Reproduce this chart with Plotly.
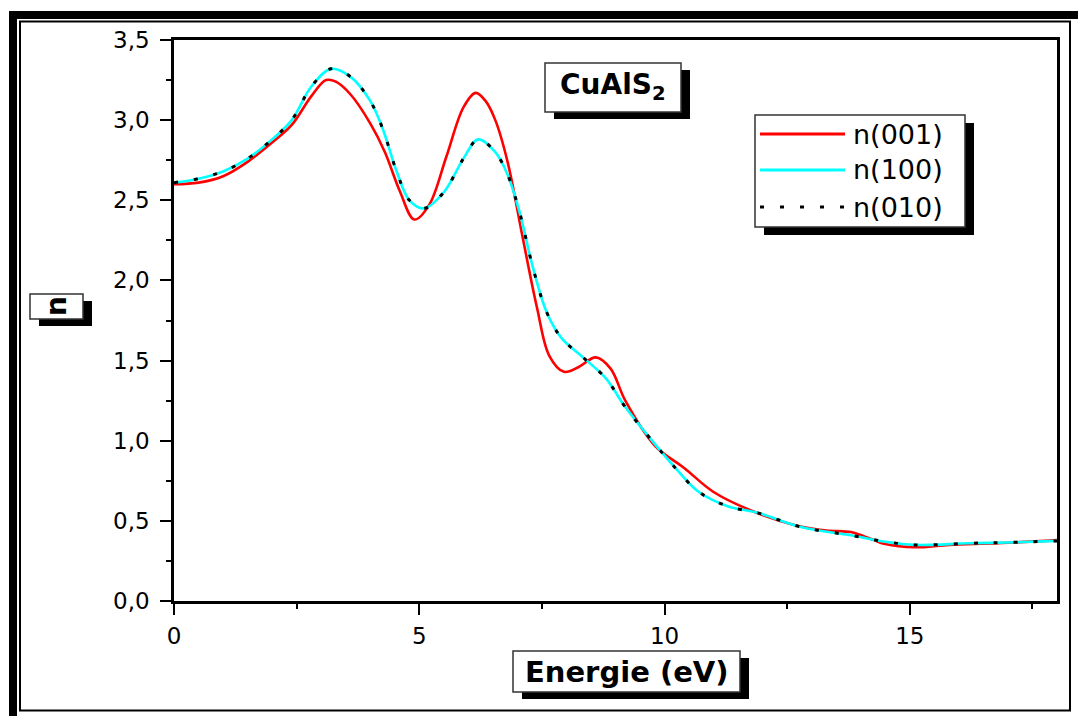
import plotly.graph_objects as go

# ---- data ----
energy_001 = [0.0, 0.5, 1.0, 1.5, 2.0, 2.4, 2.8, 3.1, 3.3, 3.6, 4.0, 4.3, 4.6, 4.9, 5.2, 5.55,
              5.9, 6.15, 6.35, 6.55, 6.8, 7.1, 7.4, 7.65, 7.95, 8.25, 8.6, 8.9, 9.2, 9.8, 10.4, 11.0,
              11.8, 12.7, 13.3, 13.8, 14.1, 14.5, 15.1, 15.8, 16.8, 18.0]
n_001 = [2.60, 2.61, 2.65, 2.74, 2.86, 2.97, 3.15, 3.25, 3.24, 3.16, 2.98, 2.80, 2.56, 2.38, 2.47, 2.77,
         3.08, 3.17, 3.12, 3.00, 2.74, 2.28, 1.83, 1.53, 1.43, 1.46, 1.52, 1.45, 1.25, 0.97, 0.83, 0.68,
         0.56, 0.47, 0.44, 0.43, 0.40, 0.355, 0.335, 0.35, 0.36, 0.38]

energy_100 = [0.0, 0.5, 1.0, 1.5, 2.0, 2.4, 2.8, 3.2, 3.6, 4.0, 4.25, 4.55, 4.8, 5.1, 5.5, 5.9,
              6.2, 6.55, 6.8, 7.05, 7.3, 7.6, 7.9, 8.3, 8.8, 9.2, 9.8, 10.25, 10.7, 11.3, 11.9,
              12.8, 13.8, 14.5, 15.1, 16.2, 17.0, 18.0]
n_100 = [2.61, 2.635, 2.68, 2.76, 2.88, 3.00, 3.21, 3.32, 3.27, 3.12, 2.95, 2.67, 2.50, 2.45, 2.55, 2.76,
         2.88, 2.80, 2.66, 2.42, 2.10, 1.80, 1.64, 1.53, 1.39, 1.21, 0.98, 0.82, 0.68, 0.59, 0.55,
         0.46, 0.41, 0.37, 0.35, 0.36, 0.365, 0.375]

energy_010 = list(energy_100)
n_010 = [2.61, 2.635, 2.68, 2.76, 2.88, 3.00, 3.21, 3.32, 3.27, 3.12, 2.95, 2.67, 2.50, 2.45, 2.55, 2.76,
         2.88, 2.80, 2.66, 2.42, 2.10, 1.80, 1.64, 1.53, 1.39, 1.21, 0.98, 0.82, 0.68, 0.59, 0.55,
         0.46, 0.41, 0.37, 0.35, 0.36, 0.365, 0.375]

series_names = ["n(001)", "n(100)", "n(010)"]
x_tickvals = [0, 5, 10, 15]
y_tickvals = [0.0, 0.5, 1.0, 1.5, 2.0, 2.5, 3.0, 3.5]
y_ticktext = ["0,0", "0,5", "1,0", "1,5", "2,0", "2,5", "3,0", "3,5"]

# ---- layout geometry ----
W, H = 1078, 716
L, R, T, B = 174, 21, 40, 115
PW, PH = W - L - R, H - T - B


def px(x):
    return (x - L) / PW


def py(y):
    return (H - B - y) / PH


FONT = "DejaVu Sans, Arial, Liberation Sans"
DOT = "4px,16px"

fig = go.Figure()
fig.add_trace(go.Scatter(x=energy_001, y=n_001, mode="lines", name=series_names[0],
                         line=dict(color="#FF0000", width=2.6, shape="spline", smoothing=1)))
fig.add_trace(go.Scatter(x=energy_100, y=n_100, mode="lines", name=series_names[1],
                         line=dict(color="#00FFFF", width=2.6, shape="spline", smoothing=1)))
fig.add_trace(go.Scatter(x=energy_010, y=n_010, mode="lines", name=series_names[2],
                         line=dict(color="#000000", width=3, dash=DOT, shape="spline", smoothing=1)))

shapes = []
# outer frame
shapes.append(dict(type="rect", xref="paper", yref="paper", x0=px(13), x1=px(1090), y0=py(15), y1=py(730),
                   line=dict(color="black", width=8), fillcolor="rgba(0,0,0,0)", layer="below"))
shapes.append(dict(type="rect", xref="paper", yref="paper", x0=px(20), x1=px(1070), y0=py(21.5), y1=py(710.5),
                   line=dict(color="black", width=2), fillcolor="rgba(0,0,0,0)", layer="below"))


def boxed(x0, y0, x1, y1, dx, dy):
    shapes.append(dict(type="rect", xref="paper", yref="paper", x0=px(x0 + dx), x1=px(x1 + dx),
                       y0=py(y0 + dy), y1=py(y1 + dy), line=dict(width=0), fillcolor="black"))
    shapes.append(dict(type="rect", xref="paper", yref="paper", x0=px(x0), x1=px(x1),
                       y0=py(y0), y1=py(y1), line=dict(color="#333333", width=1.5), fillcolor="white"))


boxed(545, 63, 681, 112, 9, 7)      # title box
boxed(755, 115, 965, 227, 9, 8)     # legend box
boxed(30, 294, 83, 319, 9, 7)       # y title box
boxed(513, 651, 740, 692, 9, 7)     # x title box

# legend samples
leg_y = [134, 170, 207]
leg_styles = [dict(color="#FF0000", width=3), dict(color="#00FFFF", width=3),
              dict(color="black", width=3, dash=DOT)]
for yy, st in zip(leg_y, leg_styles):
    shapes.append(dict(type="line", xref="paper", yref="paper", x0=px(760), x1=px(845),
                       y0=py(yy), y1=py(yy), line=st))

annotations = [
    dict(text="<b>CuAlS<sub>2</sub></b>", x=px(613), y=py(86), xref="paper", yref="paper",
         showarrow=False, font=dict(family=FONT, size=28, color="black"), xanchor="center", yanchor="middle"),
    dict(text="<b>Energie (eV)</b>", x=px(627), y=py(671.5), xref="paper", yref="paper",
         showarrow=False, font=dict(family=FONT, size=29, color="black"), xanchor="center", yanchor="middle"),
    dict(text="<b>n</b>", x=px(56.5), y=py(306.5), xref="paper", yref="paper", textangle=-90,
         showarrow=False, font=dict(family=FONT, size=28, color="black"), xanchor="center", yanchor="middle"),
]
for yy, name in zip(leg_y, series_names):
    annotations.append(dict(text=name, x=px(851), y=py(yy), xref="paper", yref="paper",
                            showarrow=False, font=dict(family=FONT, size=27, color="black"),
                            xanchor="left", yanchor="middle"))

axis_common = dict(showgrid=False, zeroline=False, showline=True, linecolor="black", linewidth=2.5,
                   mirror=True, ticks="outside", tickcolor="black", tickwidth=2, ticklen=11,
                   tickfont=dict(family=FONT, size=23, color="black"))

fig.update_layout(
    width=W, height=H,
    margin=dict(l=L, r=R, t=T, b=B, pad=0),
    paper_bgcolor="white", plot_bgcolor="white",
    showlegend=False,
    xaxis=dict(range=[0, 18], tickvals=x_tickvals, ticklabelstandoff=2,
               minor=dict(dtick=2.5, tick0=0, ticks="outside", ticklen=5, tickwidth=2, tickcolor="black"),
               **axis_common),
    yaxis=dict(range=[0, 3.5], tickvals=y_tickvals, ticktext=y_ticktext, ticklabelstandoff=6,
               minor=dict(dtick=0.25, tick0=0, ticks="outside", ticklen=5, tickwidth=2, tickcolor="black"),
               **axis_common),
    shapes=shapes,
    annotations=annotations,
)

fig.write_html("out.html")
